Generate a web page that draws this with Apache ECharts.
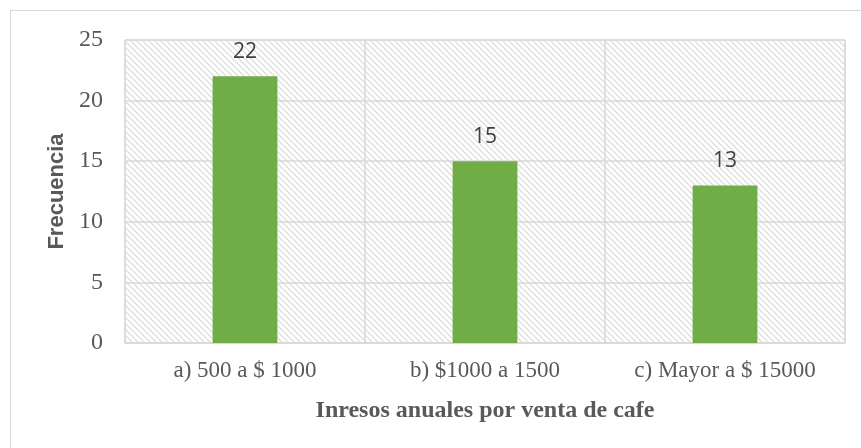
<!DOCTYPE html>
<html>
<head>
<meta charset="utf-8">
<script src="https://cdn.jsdelivr.net/npm/echarts@6/dist/echarts.min.js"></script>
<style>
    html, body { margin: 0; padding: 0; background: #fff; }
    #chart { width: 861px; height: 448px; }
</style>
</head>
<body>
<div id="chart"></div>
<script>
var categories = ['a) 500 a $ 1000', 'b) $1000 a 1500', 'c) Mayor a $ 15000'];
var frecuencia = [22, 15, 13];
var yTicks = [0, 5, 10, 15, 20, 25];

// patrón rayado del fondo
function hatch() {
    var c = document.createElement('canvas');
    c.width = 6;
    c.height = 6;
    var ctx = c.getContext('2d');
    ctx.fillStyle = '#ffffff';
    ctx.fillRect(0, 0, 6, 6);
    ctx.strokeStyle = '#dedede';
    ctx.lineWidth = 1.3;
    ctx.beginPath();
    ctx.moveTo(-1, -1);
    ctx.lineTo(7, 7);
    ctx.moveTo(-1, 5);
    ctx.lineTo(1, 7);
    ctx.moveTo(5, -1);
    ctx.lineTo(7, 1);
    ctx.stroke();
    return { image: c, repeat: 'repeat' };
}

var myChart = echarts.init(document.getElementById('chart'));
var option = {
    animation: false,
    graphic: [{
        type: 'rect',
        shape: { x: 10.5, y: 10.5, width: 860, height: 450 },
        style: { fill: 'none', stroke: '#d9d9d9', lineWidth: 1 },
        silent: true
    }],
    grid: {
        left: 125,
        right: 16,
        top: 40,
        bottom: 105,
        show: true,
        backgroundColor: hatch(),
        borderColor: '#d9d9d9',
        borderWidth: 1
    },
    xAxis: {
        type: 'category',
        data: categories,
        axisLine: { lineStyle: { color: '#d9d9d9', width: 1.5 } },
        axisTick: { show: false },
        splitLine: { show: true, interval: 0, lineStyle: { color: '#d9d9d9', width: 1.5 } },
        axisLabel: {
            interval: 0,
            hideOverlap: false,
            fontFamily: 'Liberation Serif',
            fontSize: 23,
            color: '#595959',
            margin: 16
        },
        name: 'Inresos anuales por venta de cafe',
        nameLocation: 'middle',
        nameGap: 56,
        nameTextStyle: {
            fontFamily: 'Liberation Serif',
            fontWeight: 'bold',
            fontSize: 24,
            color: '#595959'
        }
    },
    yAxis: {
        type: 'value',
        min: yTicks[0],
        max: yTicks[yTicks.length - 1],
        interval: 5,
        axisLine: { show: false },
        axisTick: { show: false },
        splitLine: { lineStyle: { color: '#d9d9d9', width: 1.5 } },
        axisLabel: {
            fontFamily: 'Liberation Serif',
            fontSize: 24,
            color: '#595959',
            margin: 22
        },
        name: 'Frecuencia',
        nameLocation: 'middle',
        nameGap: 55,
        nameRotate: 90,
        nameTextStyle: {
            fontFamily: 'Liberation Sans',
            fontWeight: 'bold',
            fontSize: 22,
            color: '#595959'
        }
    },
    series: [{
        name: 'Frecuencia',
        type: 'bar',
        barWidth: '27%',
        data: frecuencia,
        itemStyle: { color: '#70ad47' },
        label: {
            show: true,
            position: 'top',
            distance: 14,
            fontFamily: 'Open Sans',
            fontSize: 21,
            color: '#404040'
        }
    }]
};
myChart.setOption(option);
</script>
</body>
</html>
